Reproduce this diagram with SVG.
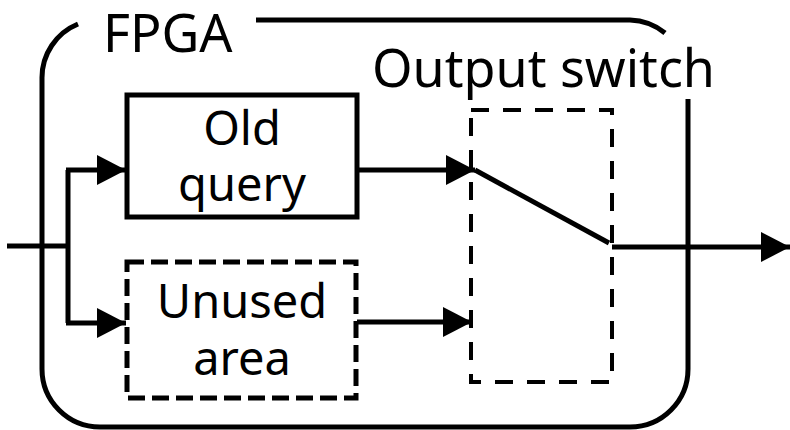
<svg xmlns="http://www.w3.org/2000/svg" width="790" height="430" viewBox="0 0 790 430">
  <style>
    .title { font-family: "Noto Sans", "Open Sans", sans-serif; font-size: 52px; fill: #000; }
    .label { font-family: "Noto Sans", "Open Sans", sans-serif; font-size: 47px; fill: #000; text-anchor: middle; }
    .frame { fill: none; stroke: #000; stroke-width: 5; stroke-linecap: butt; }
    .solid { fill: #fff; stroke: #000; stroke-width: 5; }
    .dashed { fill: #fff; stroke: #000; stroke-width: 5; stroke-dasharray: 17 7; }
    .dashed-thin { fill: none; stroke: #000; stroke-width: 4; stroke-dasharray: 18 14; }
    .wire { fill: none; stroke: #000; stroke-width: 5; }
  </style>
  <defs>
    <marker id="arrow" markerUnits="userSpaceOnUse" markerWidth="29" markerHeight="30" refX="29" refY="15" orient="auto">
      <path d="M0,0 L29,15 L0,30 Z" fill="#000"/>
    </marker>
  </defs>

  <rect width="790" height="430" fill="#fff"/>

  <!-- FPGA boundary, broken where the labels sit -->
  <g id="fpga">
    <path class="frame" d="M256,20 H630 A58,58 0 0 1 665,33"/>
    <path class="frame" d="M688,99 V369 A58,58 0 0 1 630,427 H100 A58,58 0 0 1 42,369 V78 A58,58 0 0 1 78,24"/>
    <text class="title" x="103" y="52">FPGA</text>
  </g>

  <!-- connectors -->
  <g id="connectors">
    <path class="wire" d="M7,246 H68"/>
    <path class="wire" d="M68,170 V323"/>
    <path class="wire" d="M66,170 H126" marker-end="url(#arrow)"/>
    <path class="wire" d="M66,323 H126" marker-end="url(#arrow)"/>
    <path class="wire" d="M357,170 H475" marker-end="url(#arrow)"/>
    <path class="wire" d="M357,322 H472" marker-end="url(#arrow)"/>
    <path class="wire" d="M612,247 H790" marker-end="url(#arrow)"/>
  </g>

  <g id="old-query">
    <rect class="solid" x="127" y="95" width="230" height="122"/>
    <text class="label" x="242" y="145">Old</text>
    <text class="label" x="242" y="201">query</text>
  </g>

  <g id="unused-area">
    <rect class="dashed" x="127" y="262" width="229" height="136"/>
    <text class="label" x="242" y="318">Unused</text>
    <text class="label" x="242" y="375">area</text>
  </g>

  <g id="output-switch">
    <rect class="dashed-thin" x="471" y="110" width="141" height="272"/>
    <path class="wire" d="M475,170 L609,243"/>
    <text class="title" x="372" y="87">Output switch</text>
  </g>
</svg>
